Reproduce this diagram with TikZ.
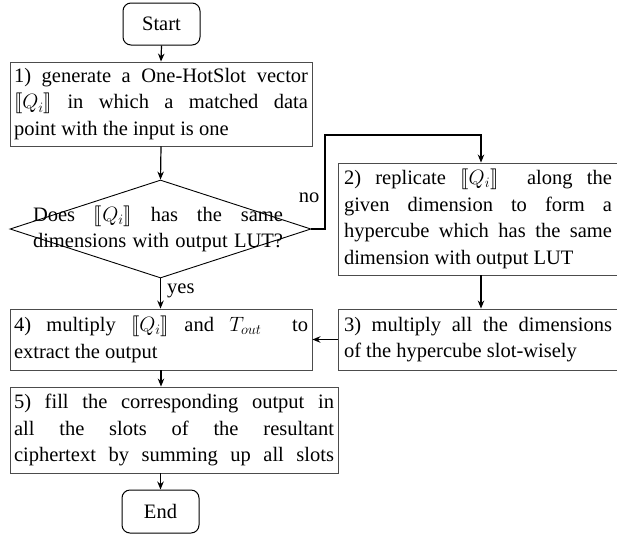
\documentclass[tikz,border=0pt]{standalone}
\usepackage{stmaryrd}
\usepackage{fontspec}
\setmainfont{Liberation Serif}
\usetikzlibrary{arrows.meta,shapes.geometric}

% one justified line of a fixed width, and one set ragged
\newcommand\jline[2]{\makebox[#1][s]{#2}}
\newcommand\lline[2]{\makebox[#1][l]{#2}}
\newcommand\Qi{$\llbracket Q_i\rrbracket$}

\tikzset{
  every node/.style={font=\fontsize{20.5}{26.5}\selectfont},
  procbox/.style={draw=black!70, line width=0.9pt, rectangle, inner sep=0pt, align=left},
  termbox/.style={draw=black, line width=1pt, rectangle, rounded corners=8pt, inner sep=0pt},
  decbox/.style={draw=black, line width=0.9pt, diamond, inner sep=0pt},
  flow/.style={draw=black, line width=1.2pt, -{Stealth[length=8pt,width=6.5pt]}},
  lbl/.style={inner sep=0pt}
}

\begin{document}
\begin{tikzpicture}[x=1pt, y=-1pt]
  \path[use as bounding box, clip] (0,0) rectangle (617,538);

  % terminals
  \node[termbox, minimum width=77pt, minimum height=42pt] (start) at (161.5,24) {Start};
  \node[termbox, minimum width=77pt, minimum height=43pt] (end) at (160.5,511.5) {End};

  % step 1
  \node[procbox, minimum width=302pt, minimum height=84pt] (s1) at (161,104) {%
    \jline{294pt}{1) generate a One-HotSlot vector}\\
    \jline{294pt}{\Qi{} in which a matched data}\\
    \lline{294pt}{point with the input is one}};

  % decision
  \node[decbox, minimum width=301pt, minimum height=98pt] (dec) at (160.5,229) {};
  \node[lbl, align=left] (dectext) at (158,229) {%
    \jline{250pt}{Does \Qi{} has the same}\\
    \jline{250pt}{dimensions with output LUT?}};

  % step 2 (its right side lies just past the edge)
  \node[procbox, minimum width=280pt, minimum height=112pt] (s2) at (478,219) {%
    \jline{268pt}{2) replicate \Qi{}\ \ along the}\\
    \jline{268pt}{given dimension to form a}\\
    \jline{268pt}{hypercube which has the same}\\
    \lline{268pt}{dimension with output LUT}};

  % step 3
  \node[procbox, minimum width=280pt, minimum height=61pt] (s3) at (478,339.5) {%
    \jline{268pt}{3) multiply all the dimensions}\\
    \lline{268pt}{of the hypercube slot-wisely}};

  % step 4
  \node[procbox, minimum width=302pt, minimum height=61pt] (s4) at (161,339.5) {%
    \jline{294pt}{4) multiply \Qi{} and $T_{out}$\ \ to}\\
    \lline{294pt}{extract the output}};

  % step 5
  \node[procbox, minimum width=328pt, minimum height=86pt] (s5) at (174,430) {%
    \jline{320pt}{5) fill the corresponding output in}\\
    \jline{320pt}{all the slots of the resultant}\\
    \jline{320pt}{ciphertext by summing up all slots}};

  % connectors
  \draw[flow] (start.south) -- (s1.north);
  \draw[flow] (s1.south) -- (dec.north);
  \draw[flow] (dec.south) -- (dec.south |- s4.north);
  \node[lbl, anchor=west] (yes) at (167,291) {yes};

  \coordinate (up) at (325,135);
  \coordinate (over) at (481,135);
  \draw[flow] (dec.east) -| (up) -- (over) -- (over |- s2.north);
  \node[lbl] (no) at (309,198) {no};

  \draw[flow] (over |- s2.south) -- (over |- s3.north);
  \draw[flow] (s3.west) -- (s4.east);
  \draw[flow] (s4.south) -- (s4.south |- s5.north);
  \draw[flow] (end.north |- s5.south) -- (end.north);
\end{tikzpicture}
\end{document}
